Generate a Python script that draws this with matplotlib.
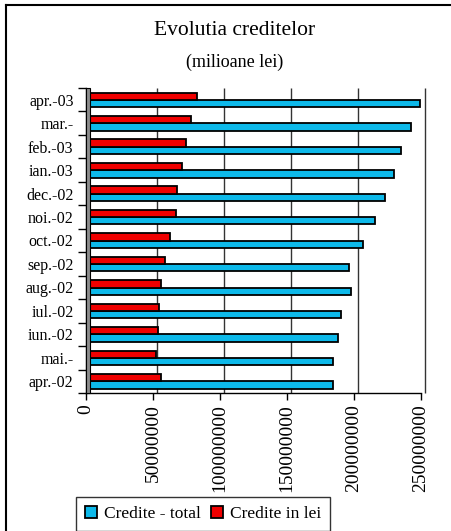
import matplotlib
matplotlib.use("Agg")
import matplotlib.pyplot as plt
import matplotlib.transforms as mtransforms
from matplotlib.patches import Rectangle
from matplotlib.lines import Line2D
import numpy as np

plt.rcParams['font.family'] = ['Liberation Serif', 'DejaVu Serif']

luni = ["apr.-03", "mar.-", "feb.-03", "ian.-03", "dec.-02", "noi.-02", "oct.-02",
        "sep.-02", "aug.-02", "iul.-02", "iun.-02", "mai.-", "apr.-02"]
credite_total = [249e6, 242.5e6, 235e6, 230e6, 223e6, 216e6, 207e6,
                 196.5e6, 198e6, 190.5e6, 188e6, 184.5e6, 184e6]
credite_lei = [83e6, 78e6, 74.5e6, 72e6, 68e6, 67e6, 63e6,
               59e6, 56e6, 54.5e6, 54e6, 52e6, 56e6]
xticks = [0, 50000000, 100000000, 150000000, 200000000, 250000000]

W, H = 451, 531
fig = plt.figure(figsize=(W / 100, H / 100), dpi=100)

# plot area in pixels
x0, x1, ytop, ybot = 86, 421, 88, 393
ax = fig.add_axes([x0 / W, 1 - ybot / H, (x1 - x0) / W, (ybot - ytop) / H])

y = np.arange(len(luni))
h = 0.31
ax.barh(y + 0.16, credite_total, height=h, color='#0DB9EA', edgecolor='black',
        linewidth=1.3, label='Credite - total', zorder=3)
ax.barh(y - 0.15, credite_lei, height=h, color='#F00000', edgecolor='black',
        linewidth=1.3, label='Credite in lei', zorder=3)

ax.set_ylim(len(luni) - 0.5, -0.5)
ax.set_xlim(0, 250e6)
ax.set_yticks(y)
ax.set_yticklabels(luni, fontsize=11.5)
ax.set_yticks(np.arange(len(luni) + 1) - 0.5, minor=True)
ax.tick_params(axis='y', which='major', length=0, pad=9)
ax.tick_params(axis='y', which='minor', length=6, direction='out', width=1)
ax.set_xticks(xticks)
ax.set_xticklabels([str(v) for v in xticks], rotation=90, fontsize=14)
ax.tick_params(axis='x', length=5, direction='out', width=1, pad=3)

for s in ['top', 'right']:
    ax.spines[s].set_visible(False)
ax.spines['left'].set_linewidth(1)
ax.spines['bottom'].set_linewidth(1)

# gridlines on the back wall (shifted like the 3d look)
off = mtransforms.offset_copy(ax.get_xaxis_transform(), fig=fig, x=4, y=0, units='dots')
ax.vlines(xticks[1:], 0, 1, transform=off, colors='#333333', linewidth=1, zorder=1,
          clip_on=False)

# side wall
fig.patches.append(Rectangle((x0 / W, 1 - ybot / H), 4 / W, (ybot - ytop) / H,
                             transform=fig.transFigure, facecolor='#8C8C8C',
                             edgecolor='black', linewidth=0.8, zorder=0))

fig.text(235 / W, 1 - 31 / H, "Evolutia creditelor", ha='center', va='center', fontsize=15.5)
fig.text(235 / W, 1 - 62 / H, "(milioane lei)", ha='center', va='center', fontsize=13)

leg = fig.legend(loc='upper left', bbox_to_anchor=(76 / W, 1 - 497 / H), ncol=2,
                 fontsize=12.5, frameon=True, fancybox=False, edgecolor='black',
                 handlelength=0.7, handleheight=0.7, handletextpad=0.4,
                 columnspacing=0.6, borderpad=0.5, borderaxespad=0)
leg.get_frame().set_linewidth(1)

# outer chart border
fig.add_artist(Line2D([6 / W, 6 / W], [0, 1 - 5 / H], transform=fig.transFigure,
                      color='black', linewidth=1.5))
fig.add_artist(Line2D([6 / W, 1], [1 - 5 / H, 1 - 5 / H], transform=fig.transFigure,
                      color='black', linewidth=1.5))

fig.savefig("out.png", dpi=100)
